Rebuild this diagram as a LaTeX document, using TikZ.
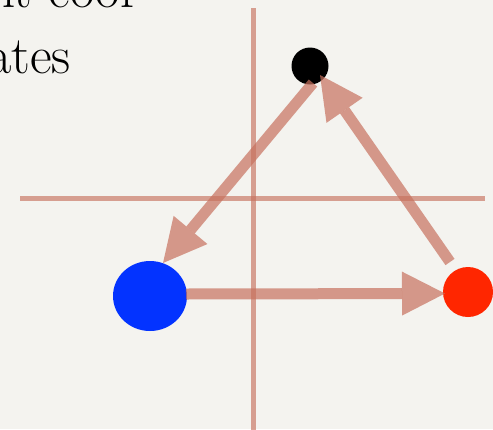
\documentclass[tikz,border=0pt]{standalone}
\usepackage{fontspec}
\usetikzlibrary{arrows.meta,calc,shapes.geometric}
\definecolor{paper}{RGB}{244,243,239}
\definecolor{salmon}{RGB}{199,113,94}
\definecolor{dotblue}{RGB}{3,51,255}
\definecolor{dotred}{RGB}{255,38,0}
\begin{document}
\begin{tikzpicture}[x=1pt,y=-1pt,
  txt/.style={inner sep=0pt,font=\fontsize{53}{64}\selectfont},
  axisline/.style={draw=salmon,line width=5pt,opacity=0.65},
  arr/.style={draw=salmon,line width=11pt,opacity=0.7,-{Triangle[length=43pt,width=44pt,line width=0pt]}},
  dot/.style={circle,inner sep=0pt}]
\fill[paper] (0,0) rectangle (493,429);
\useasboundingbox (0,0) rectangle (493,429);
\clip (0,0) rectangle (493,429);
\node[txt,anchor=base east] (t1) at (139,7) {nt coor};
\node[txt,anchor=base east] (t2) at (71,73) {ates};
\coordinate (vtop) at (253,8);
\coordinate (vbot) at (253,440);
\coordinate (hl) at (20,198);
\coordinate (hr) at (485,198);
\draw[axisline] (vtop) -- (vbot);
\draw[axisline] (hl) -- (hr);
\node[dot,fill=black,minimum size=37pt] (k) at (310,66) {};
\node[ellipse,inner sep=0pt,fill=dotblue,minimum width=74pt,minimum height=70pt] (b) at (150,296) {};
\node[dot,fill=dotred,minimum size=50pt] (r) at (468,292) {};
\draw[arr] ($(k)+(3,17)$) -- ($(b)+(13,-33)$);
\draw[arr] ($(b)+(36,-2)$) -- ($(r)+(-23,1.5)$);
\draw[arr] ($(r)+(-18,-30)$) -- ($(k)+(10,9)$);
\end{tikzpicture}
\end{document}
